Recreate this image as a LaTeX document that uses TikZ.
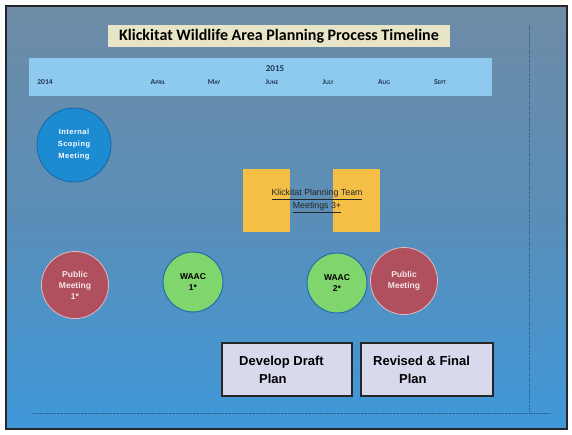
\documentclass[tikz,border=0pt]{standalone}
\usepackage{fontspec}
\setmainfont{Liberation Sans}
\newfontfamily\carl{Carlito}
\definecolor{bgtop}{HTML}{6E8CA7}
\definecolor{bgmid}{HTML}{5A8EB8}
\definecolor{bgbot}{HTML}{3F98DA}
\definecolor{titlefill}{HTML}{E8E4C8}
\definecolor{bandfill}{HTML}{8ECAF0}
\definecolor{bandtext}{HTML}{1E3552}
\definecolor{scopeblue}{HTML}{1C8BD2}
\definecolor{scopeedge}{HTML}{1767A8}
\definecolor{pubfill}{HTML}{B0505F}
\definecolor{pubedge}{HTML}{E5B8BE}
\definecolor{pubtext}{HTML}{F6E6E6}
\definecolor{waacfill}{HTML}{80D66C}
\definecolor{waacedge}{HTML}{1E6FA8}
\definecolor{yel}{HTML}{F5BE45}
\definecolor{planfill}{HTML}{D9D9EE}
\definecolor{dotline}{HTML}{2D5F84}
\newcommand{\smcp}[2]{#1{\fontsize{5.6}{6}\selectfont #2}}
\begin{document}
\begin{tikzpicture}[x=1pt,y=-1pt,
  circ/.style={circle, inner sep=0pt, align=center, font=\bfseries\fontsize{8}{10}\selectfont},
  pubcirc/.style={circ, fill=pubfill, draw=pubedge, line width=0.8pt, minimum size=67pt, text=pubtext, font=\bfseries\fontsize{8.5}{11}\selectfont},
  waaccirc/.style={circ, fill=waacfill, draw=waacedge, line width=1pt, minimum size=60pt, text=black, font=\bfseries\fontsize{8.5}{11}\selectfont},
  yelbox/.style={rectangle, fill=yel, minimum width=47pt, minimum height=63pt, inner sep=0pt},
  planbox/.style={rectangle, fill=planfill, draw=black!85, line width=1.4pt, minimum height=53pt, inner sep=0pt, align=left, font=\bfseries\fontsize{13}{18}\selectfont},
  monthlbl/.style={text=bandtext, font=\carl\bfseries\fontsize{7.5}{8}\selectfont, inner sep=0pt},
  dotted line/.style={draw=dotline, densely dotted, line width=0.7pt}]
\useasboundingbox (0,0) rectangle (572,434);
\fill[white] (0,0) rectangle (572,434);
% main panel with gradient
\shade[top color=bgtop, bottom color=bgbot, middle color=bgmid] (6,6) rectangle (567,429);
\draw[black!85, line width=1.6pt] (6,6) rectangle (567,429);
% title
\node[fill=titlefill, minimum width=342pt, minimum height=22pt, inner sep=0pt, font=\carl\bfseries\fontsize{16}{17}\selectfont] (title) at (279,36) {Klickitat Wildlife Area Planning Process Timeline};
% band
\node[fill=bandfill, minimum width=463pt, minimum height=38pt, inner sep=0pt] (band) at (260.5,77) {};
\node[text=bandtext, font=\carl\bfseries\fontsize{9}{10}\selectfont, inner sep=0pt] (y2015) at (275,69) {2015};
\node[monthlbl] (y2014) at (45,82) {2014};
\node[monthlbl] (apr) at (158,82) {\smcp{A}{PRIL}};
\node[monthlbl] (may) at (214,82) {\smcp{M}{AY}};
\node[monthlbl] (jun) at (272,82) {\smcp{J}{UNE}};
\node[monthlbl] (jul) at (328,82) {\smcp{J}{ULY}};
\node[monthlbl] (aug) at (384,82) {\smcp{A}{UG}};
\node[monthlbl] (sep) at (440,82) {\smcp{S}{EPT}};
% scoping meeting
\node[circ, fill=scopeblue, draw=scopeedge, line width=0.8pt, minimum size=74pt, text=white, font=\bfseries\fontsize{7.5}{12}\selectfont] (scope) at (74,145) {\addfontfeature{LetterSpace=6}Internal\\\addfontfeature{LetterSpace=6}Scoping\\\addfontfeature{LetterSpace=6}Meeting};
% yellow boxes
\node[yelbox] (yl) at (266.5,200.5) {};
\node[yelbox] (yr) at (356.5,200.5) {};
\node[align=center, text=black!85, font=\fontsize{8.8}{13}\selectfont, inner sep=0pt] (kpt) at (317,201) {\underline{Klickitat Planning Team}\\\underline{Meetings 3+}};
% circles
\node[pubcirc] (pub1) at (75,285) {Public\\Meeting\\1*};
\node[waaccirc] (waac1) at (193,282) {WAAC\\1*};
\node[waaccirc] (waac2) at (337,283) {WAAC\\2*};
\node[pubcirc] (pub2) at (404,281) {Public\\Meeting};
% plan boxes
\node[planbox, minimum width=130pt] (dev) at (287,369.5) {};
\node[planbox, minimum width=132pt] (rev) at (427,369.5) {};
\node[anchor=west, inner sep=0pt, font=\bfseries\fontsize{13}{18}\selectfont, align=left] (devt) at (239,370) {Develop Draft\\\hspace{20pt}Plan};
\node[anchor=west, inner sep=0pt, font=\bfseries\fontsize{13}{18}\selectfont, align=left] (revt) at (373,370) {Revised \& Final\\\hspace{26pt}Plan};
% dotted guide lines
\coordinate (vtop) at (529,25);
\coordinate (vbot) at (529,411);
\coordinate (hl) at (33,413);
\coordinate (hr) at (550,413);
\draw[dotted line] (vtop) -- (vbot);
\draw[dotted line, line width=0.4pt] (hl) -- (hr);
\end{tikzpicture}
\end{document}
